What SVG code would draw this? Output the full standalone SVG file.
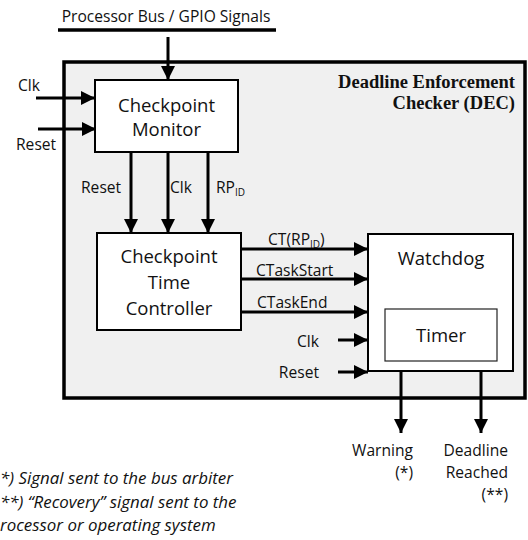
<svg xmlns="http://www.w3.org/2000/svg" width="528" height="540" viewBox="0 0 528 540">
<defs>
<marker id="ah" markerUnits="userSpaceOnUse" markerWidth="14" markerHeight="14" viewBox="0 0 14 14" refX="14" refY="7" orient="auto">
<path d="M0,0 L14,7 L0,14 Z" fill="#000"/>
</marker>
</defs>
<style>
.t{font-family:"Open Sans","Liberation Sans",sans-serif;fill:#111}
.lbl{font-size:15.6px}
.big{font-size:18.5px}
.ttl{font-family:"Liberation Serif",serif;font-weight:bold;font-size:18.5px;fill:#111}
.fn{font-family:"Open Sans","Liberation Sans",sans-serif;font-style:italic;font-size:16.9px;fill:#111}
.box{fill:#fff;stroke:#000;stroke-width:2}
.ca{stroke:#000;stroke-width:3;fill:none;marker-end:url(#ah)}
</style>
<rect width="528" height="540" fill="#fff"/>
<g id="dec">
<rect x="64" y="62" width="461" height="336" fill="#f0f0f0" stroke="#000" stroke-width="3.5"/>
<text class="ttl" x="515" y="88" text-anchor="end">Deadline Enforcement</text>
<text class="ttl" x="515" y="109" text-anchor="end">Checker (DEC)</text>
</g>
<g id="bus">
<text class="t lbl" x="166" y="22" text-anchor="middle">Processor Bus / GPIO Signals</text>
<line x1="58" y1="30" x2="276" y2="30" stroke="#000" stroke-width="3.5"/>
</g>
<g id="checkpoint-monitor">
<rect class="box" x="95" y="80" width="143" height="72"/>
<text class="t big" x="166.5" y="112" text-anchor="middle">Checkpoint</text>
<text class="t big" x="166.5" y="136" text-anchor="middle">Monitor</text>
</g>
<g id="checkpoint-time-controller">
<rect class="box" x="97" y="233" width="144" height="97"/>
<text class="t big" x="169" y="263" text-anchor="middle">Checkpoint</text>
<text class="t big" x="169" y="289" text-anchor="middle">Time</text>
<text class="t big" x="169" y="315" text-anchor="middle">Controller</text>
</g>
<g id="watchdog">
<rect class="box" x="368" y="234" width="145" height="137"/>
<text class="t big" x="441" y="265" text-anchor="middle">Watchdog</text>
</g>
<g id="timer">
<rect x="385" y="309" width="112" height="52" fill="#fff" stroke="#222" stroke-width="1.2"/>
<text class="t big" x="441" y="342" text-anchor="middle">Timer</text>
</g>
<g id="connectors">
<line class="ca" x1="168" y1="37" x2="168" y2="80"/>
<line class="ca" x1="36" y1="98" x2="95" y2="98"/>
<line class="ca" x1="38" y1="129" x2="96" y2="129"/>
<line class="ca" x1="131" y1="152" x2="131" y2="233"/>
<line class="ca" x1="168" y1="152" x2="168" y2="233"/>
<line class="ca" x1="208" y1="152" x2="208" y2="233"/>
<line class="ca" x1="241" y1="249" x2="368" y2="249"/>
<line class="ca" x1="241" y1="279" x2="368" y2="279"/>
<line class="ca" x1="241" y1="312" x2="368" y2="312"/>
<line class="ca" x1="338" y1="340" x2="368" y2="340"/>
<line class="ca" x1="338" y1="372" x2="368" y2="372"/>
<line class="ca" x1="401" y1="371" x2="401" y2="433"/>
<line class="ca" x1="481" y1="371" x2="481" y2="433"/>
</g>
<g id="labels">
<text class="t lbl" x="18" y="91">Clk</text>
<text class="t lbl" x="16" y="150">Reset</text>
<text class="t lbl" x="81" y="193">Reset</text>
<text class="t lbl" x="170" y="193">Clk</text>
<text class="t lbl" x="216" y="193">RP<tspan font-size="10" dy="3">ID</tspan></text>
<text class="t lbl" x="268" y="245">CT(RP<tspan font-size="10" dy="3">ID</tspan><tspan dy="-3">)</tspan></text>
<text class="t lbl" x="256" y="276">CTaskStart</text>
<text class="t lbl" x="257" y="308">CTaskEnd</text>
<text class="t lbl" x="319" y="347" text-anchor="end">Clk</text>
<text class="t lbl" x="319" y="378" text-anchor="end">Reset</text>
<text class="t lbl" x="413" y="456" text-anchor="end">Warning</text>
<text class="t lbl" x="413" y="478" text-anchor="end">(*)</text>
<text class="t lbl" x="508" y="456" text-anchor="end">Deadline</text>
<text class="t lbl" x="508" y="478" text-anchor="end">Reached</text>
<text class="t lbl" x="508" y="500" text-anchor="end">(**)</text>
</g>
<g id="footnotes">
<text class="fn" x="0" y="484">*) Signal sent to the bus arbiter</text>
<text class="fn" x="0" y="508">**) “Recovery” signal sent to the</text>
<text class="fn" x="0" y="531">rocessor or operating system</text>
</g>
</svg>
